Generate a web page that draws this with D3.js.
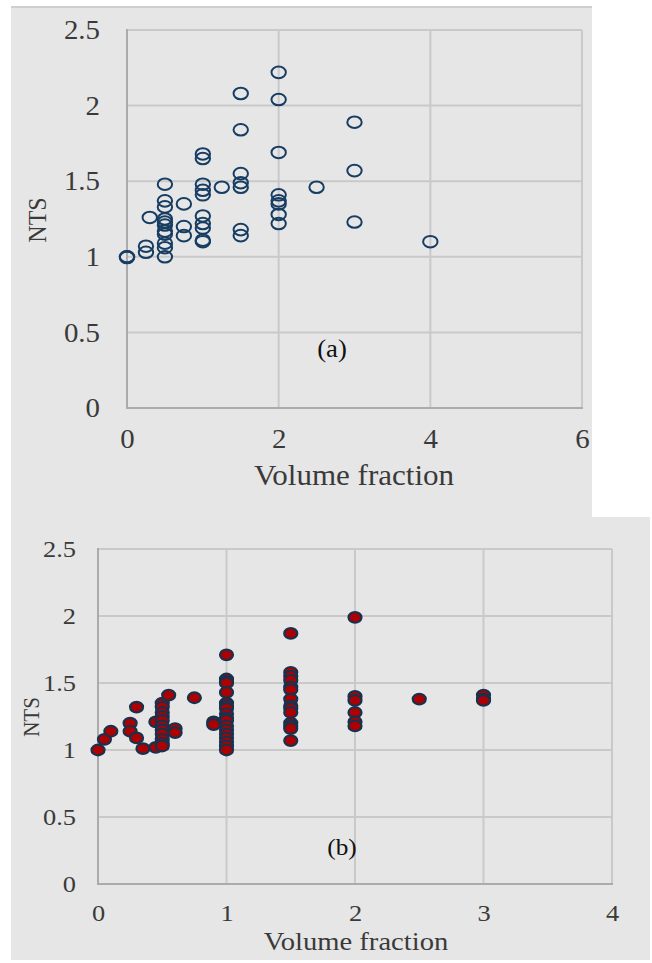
<!DOCTYPE html>
<html>
<head>
<meta charset="utf-8">
<script src="https://cdn.jsdelivr.net/npm/d3@7"></script>
<style>
  html, body { margin: 0; padding: 0; background: #ffffff; }
  svg { display: block; }
</style>
</head>
<body>
<svg id="chart" width="652" height="963"></svg>
<script>
// ---------- Data ----------
// Panel (a)
const aVolume = [0, 0, 0, 0.25, 0.25, 0.3,
  0.5, 0.5, 0.5, 0.5, 0.5, 0.5, 0.5, 0.5, 0.5, 0.5, 0.5,
  0.75, 0.75, 0.75,
  1, 1, 1, 1, 1, 1, 1, 1, 1, 1,
  1.25,
  1.5, 1.5, 1.5, 1.5, 1.5, 1.5, 1.5,
  2, 2, 2, 2, 2, 2, 2, 2,
  2.5, 3, 3, 3, 4];
const aNTS = [1.0, 1.0, 0.995, 1.07, 1.03, 1.26,
  1.48, 1.37, 1.33, 1.25, 1.23, 1.21, 1.17, 1.15, 1.09, 1.06, 1.0,
  1.35, 1.2, 1.14,
  1.68, 1.65, 1.48, 1.44, 1.41, 1.27, 1.22, 1.19, 1.11, 1.10,
  1.46,
  2.08, 1.84, 1.55, 1.49, 1.46, 1.18, 1.14,
  2.22, 2.04, 1.69, 1.41, 1.37, 1.35, 1.28, 1.22,
  1.46, 1.89, 1.57, 1.23, 1.10];

// Panel (b)
const bVolume = [0, 0.05, 0.1, 0.25, 0.25, 0.3, 0.3, 0.35, 0.45, 0.45,
  0.5, 0.5, 0.5, 0.5, 0.5, 0.5, 0.5, 0.5, 0.5, 0.5, 0.5,
  0.55, 0.6, 0.6, 0.75, 0.9, 0.9,
  1, 1, 1, 1, 1, 1, 1, 1, 1, 1, 1, 1, 1, 1, 1, 1, 1, 1,
  1.5, 1.5, 1.5, 1.5, 1.5, 1.5, 1.5, 1.5, 1.5, 1.5, 1.5, 1.5, 1.5, 1.5,
  2, 2, 2, 2, 2, 2,
  2.5, 3, 3, 3];
const bNTS = [1.0, 1.08, 1.14, 1.2, 1.14, 1.32, 1.09, 1.01, 1.21, 1.02,
  1.35, 1.32, 1.28, 1.25, 1.22, 1.18, 1.15, 1.12, 1.08, 1.05, 1.03,
  1.41, 1.16, 1.13, 1.39, 1.21, 1.19,
  1.71, 1.53, 1.51, 1.50, 1.43, 1.35, 1.33, 1.31, 1.27, 1.24, 1.22, 1.18, 1.15, 1.12, 1.09, 1.06, 1.03, 1.0,
  1.87, 1.58, 1.55, 1.52, 1.47, 1.45, 1.38, 1.33, 1.31, 1.28, 1.2, 1.18, 1.16, 1.07,
  1.99, 1.40, 1.37, 1.28, 1.21, 1.18,
  1.38, 1.41, 1.38, 1.37];

const aXTicks = [0, 2, 4, 6];
const bXTicks = [0, 1, 2, 3, 4];
const yTicks = [0, 0.5, 1, 1.5, 2, 2.5];
const yTickLabels = ["0", "0.5", "1", "1.5", "2", "2.5"];
const xTitle = "Volume fraction";
const yTitle = "NTS";

// ---------- Drawing ----------
const svg = d3.select("#chart");
const FONT = "'Liberation Serif', 'Times New Roman', serif";

function stretch(sel, sx) {
  sel.each(function () {
    const t = d3.select(this);
    const x = +t.attr("x") || 0, y = +t.attr("y") || 0;
    t.attr("x", 0).attr("y", 0)
     .attr("transform", `translate(${x},${y}) scale(${sx},1)`);
  });
}

function panel(cfg) {
  svg.append("rect")
    .attr("x", cfg.bg[0]).attr("y", cfg.bg[1])
    .attr("width", cfg.bg[2]).attr("height", cfg.bg[3])
    .attr("fill", "#e6e6e6");

  const x = d3.scaleLinear().domain(cfg.xDomain).range([cfg.left, cfg.right]);
  const y = d3.scaleLinear().domain([0, 2.5]).range([cfg.bottom, cfg.top]);
  const g = svg.append("g");

  // gridlines
  g.append("g").selectAll("line").data(yTicks.filter(d => d > 0)).join("line")
    .attr("x1", cfg.left).attr("x2", cfg.right)
    .attr("y1", d => y(d)).attr("y2", d => y(d))
    .attr("stroke", "#c9c9c9").attr("stroke-width", 2);
  g.append("g").selectAll("line").data(cfg.xTicks.filter(d => d > 0)).join("line")
    .attr("y1", cfg.top).attr("y2", cfg.bottom)
    .attr("x1", d => x(d)).attr("x2", d => x(d))
    .attr("stroke", "#c9c9c9").attr("stroke-width", 2);
  // axis lines
  g.append("line").attr("x1", cfg.left).attr("x2", cfg.left)
    .attr("y1", cfg.top - 1).attr("y2", cfg.bottom + 1)
    .attr("stroke", "#ababab").attr("stroke-width", 2);
  g.append("line").attr("x1", cfg.left - 1).attr("x2", cfg.right + 1)
    .attr("y1", cfg.bottom).attr("y2", cfg.bottom)
    .attr("stroke", "#ababab").attr("stroke-width", 2);

  // axes (labels only)
  const ya = g.append("g").attr("transform", `translate(${cfg.left},0)`)
    .call(d3.axisLeft(y).tickValues(yTicks).tickSize(0).tickPadding(cfg.yPad)
      .tickFormat((d, i) => yTickLabels[i]));
  const xa = g.append("g").attr("transform", `translate(0,${cfg.bottom})`)
    .call(d3.axisBottom(x).tickValues(cfg.xTicks).tickSize(0).tickPadding(cfg.xPad)
      .tickFormat(d3.format("d")));
  [ya, xa].forEach(a => {
    a.select(".domain").remove();
    a.selectAll("text").attr("font-family", FONT).attr("font-size", cfg.tickSize)
      .attr("fill", "#3a3a3a");
    stretch(a.selectAll("text"), cfg.sx);
  });

  // titles
  g.append("text").attr("transform", `translate(${cfg.xTitle[0]},${cfg.xTitle[1]}) scale(${cfg.sx},1)`)
    .attr("text-anchor", "middle").attr("font-family", FONT)
    .attr("font-size", cfg.xTitleSize).attr("fill", "#3a3a3a").text(xTitle);
  g.append("text").attr("transform", `translate(${cfg.yTitle[0]},${cfg.yTitle[1]}) rotate(-90) scale(1,${cfg.sx})`)
    .attr("text-anchor", "middle").attr("dominant-baseline", "central").attr("font-family", FONT)
    .attr("font-size", cfg.yTitleSize).attr("fill", "#3a3a3a").text(yTitle);
  g.append("text").attr("transform", `translate(${cfg.tag[0]},${cfg.tag[1]}) scale(${cfg.sx},1)`)
    .attr("text-anchor", "middle").attr("dominant-baseline", "central").attr("font-family", FONT)
    .attr("font-size", cfg.tagSize).attr("fill", "#111").text(cfg.tagText);

  // markers
  g.append("g").selectAll("ellipse").data(cfg.xs.map((v, i) => [v, cfg.ys[i]])).join("ellipse")
    .attr("cx", d => x(d[0])).attr("cy", d => y(d[1]))
    .attr("rx", cfg.rx).attr("ry", cfg.ry)
    .attr("fill", cfg.fill).attr("stroke", cfg.stroke).attr("stroke-width", cfg.sw);
}

panel({
  bg: [11, 6, 581, 512],
  xDomain: [0, 6], left: 127, right: 582, top: 30, bottom: 408,
  xTicks: aXTicks, yPad: 27, xPad: 21, tickSize: 27, sx: 1.07,
  xTitle: [354, 485], xTitleSize: 29,
  yTitle: [37, 220], yTitleSize: 24,
  tag: [332, 349], tagText: "(a)", tagSize: 25,
  xs: aVolume, ys: aNTS, rx: 7.2, ry: 5.8,
  fill: "none", stroke: "#173d63", sw: 2
});
svg.append("line").attr("x1", 11).attr("x2", 592).attr("y1", 7).attr("y2", 7)
  .attr("stroke", "#cfcfcf").attr("stroke-width", 2);

panel({
  bg: [11, 517, 639, 443],
  xDomain: [0, 4], left: 98, right: 612, top: 549, bottom: 884,
  xTicks: bXTicks, yPad: 22, xPad: 20, tickSize: 24, sx: 1.1,
  xTitle: [356, 950], xTitleSize: 26,
  yTitle: [31, 717], yTitleSize: 21,
  tag: [342, 847], tagText: "(b)", tagSize: 23,
  xs: bVolume, ys: bNTS, rx: 6.5, ry: 5.3,
  fill: "#ad0000", stroke: "#17324f", sw: 2.2
});
</script>
</body>
</html>
